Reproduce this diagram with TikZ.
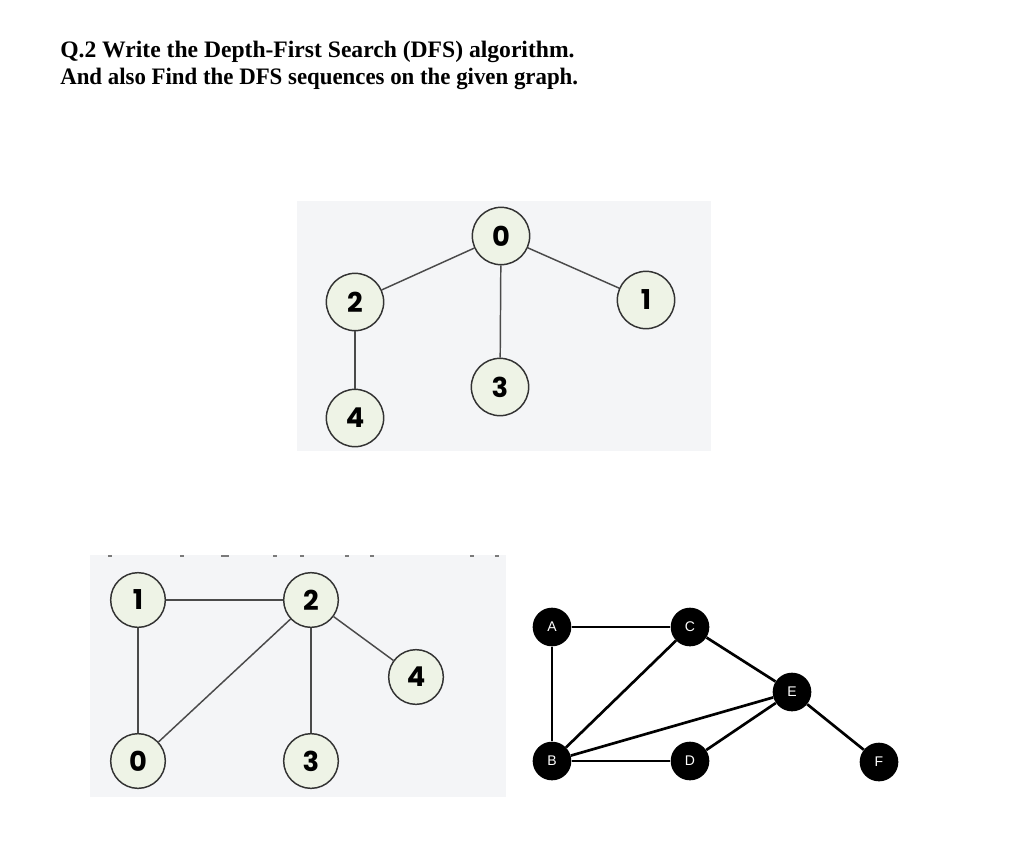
\documentclass[tikz,border=0pt]{standalone}
\usepackage{graphicx}
\usepackage{fontspec}
\setmainfont{Liberation Serif}
\newfontfamily\digitfont{Poppins}
\newfontfamily\letterfont{Liberation Sans}
\begin{document}
\begin{tikzpicture}[x=0.75pt,y=-0.75pt,
  title/.style={anchor=base west,inner sep=0pt,font=\fontsize{17.7}{20}\selectfont\bfseries},
  panel/.style={fill=panelgray,draw=none},
  gnode/.style={circle,draw=nodeline,line width=1.1pt,fill=nodefill,minimum size=43pt,inner sep=0pt,font=\digitfont\fontsize{20.5}{20.5}\selectfont\bfseries},
  snode/.style={gnode,minimum size=41pt},
  gedge/.style={draw=edgegray,line width=1.1pt},
  bnode/.style={circle,fill=black,minimum size=29pt,inner sep=0pt,text=white,font=\letterfont\fontsize{10.5}{10.5}\selectfont},
  bedge/.style={draw=black,line width=2pt},
  frag/.style={fill=fraggray,draw=none}]
\definecolor{panelgray}{HTML}{F4F5F7}
\definecolor{nodefill}{HTML}{EEF3E6}
\definecolor{nodeline}{HTML}{333333}
\definecolor{edgegray}{HTML}{4A4A4A}
\definecolor{fraggray}{HTML}{7A7A7A}
\useasboundingbox[fill=white] (0,0) rectangle (1020,861);
% title
\node[title] (t1) at (60,57) {Q.2 Write the Depth-First Search (DFS) algorithm.};
\node[title] (t2) at (60,84) {\scalebox{0.968}[1]{And also Find the DFS sequences on the given graph.}};
% top panel
\fill[panel] (297,201) rectangle (711,451);
\node[gnode] (a0) at (501,236) {0};
\node[gnode] (a2) at (355,302) {2};
\node[gnode] (a1) at (646,300) {1};
\node[gnode] (a3) at (500,387) {3};
\node[gnode] (a4) at (355,418) {4};
\path[gedge] (a0) -- (a2);
\path[gedge] (a0) -- (a1);
\path[gedge] (a0) -- (a3);
\path[gedge] (a2) -- (a4);
% bottom-left panel
\fill[panel] (90,555) rectangle (506,797);
\foreach \fx in {110,182,223,227,275,302,347,372,472,497}
  \fill[frag] (\fx-2,555) rectangle (\fx+2,557);
\node[snode] (b1) at (138,600) {1};
\node[snode] (b2) at (311,600) {2};
\node[snode] (b4) at (416,677) {4};
\node[snode] (b0) at (138,761) {0};
\node[snode] (b3) at (311,761) {3};
\path[gedge] (b1) -- (b2);
\path[gedge] (b1) -- (b0);
\path[gedge] (b0) -- (b2);
\path[gedge] (b2) -- (b3);
\path[gedge] (b2) -- (b4);
% right graph
\node[bnode] (A) at (552,627) {A};
\node[bnode] (C) at (690,627) {C};
\node[bnode] (E) at (792,692) {E};
\node[bnode] (B) at (552,761) {B};
\node[bnode] (D) at (690,761) {D};
\node[bnode] (F) at (879,762) {F};
\path[bedge] (A) -- (C);
\path[bedge] (A) -- (B);
\path[bedge] (B) -- (C);
\path[bedge] (C) -- (E);
\path[bedge] (B) -- (E);
\path[bedge] (B) -- (D);
\path[bedge] (D) -- (E);
\path[bedge] (E) -- (F);
\end{tikzpicture}
\end{document}
